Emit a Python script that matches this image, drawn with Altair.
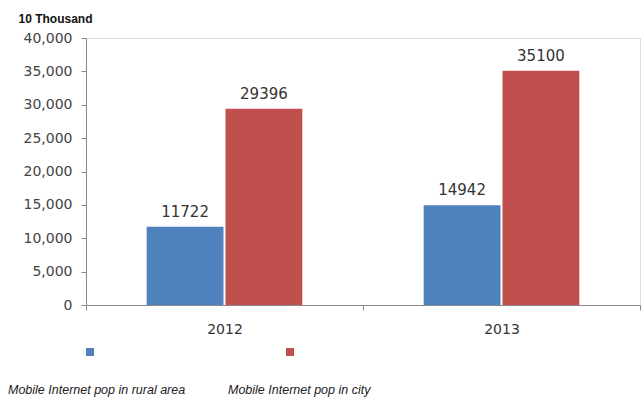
import altair as alt
import pandas as pd

years = ["2012", "2013"]
series = ["Mobile Internet pop in rural area", "Mobile Internet pop in city"]
rural = [11722, 14942]
city = [29396, 35100]
colors = ["#4F81BD", "#C0504D"]
y_ticks = [0, 5000, 10000, 15000, 20000, 25000, 30000, 35000, 40000]

rows = []
for i, yr in enumerate(years):
    rows.append({"year": yr, "series": series[0], "value": rural[i]})
    rows.append({"year": yr, "series": series[1], "value": city[i]})
df = pd.DataFrame(rows)

leg = pd.DataFrame({"series": series})

W, H = 554, 267

color = alt.Color("series:N", scale=alt.Scale(domain=series, range=colors), legend=None)

x = alt.X("year:N", scale=alt.Scale(domain=years, paddingInner=0, paddingOuter=0),
          axis=alt.Axis(title=None, labelAngle=0, labelFontSize=14, labelColor="#333",
                        labelFont="DejaVu Sans", labelPadding=12, tickBand="extent",
                        tickSize=5, tickColor="#888", domainColor="#888"))
xo = alt.XOffset("series:N", scale=alt.Scale(domain=series, paddingInner=0.025, paddingOuter=0.77))
y = alt.Y("value:Q", scale=alt.Scale(domain=[0, 40000], nice=False),
          axis=alt.Axis(title="10 Thousand", titleAngle=0, titleAlign="left", titleX=-68, titleY=-20,
                        titleFontSize=12, titleFont="Liberation Sans", titleFontWeight="bold",
                        titleColor="#111", titleBaseline="middle",
                        values=y_ticks, format=",d", grid=False, labelOverlap=False,
                        labelFontSize=14, labelColor="#444", labelFont="DejaVu Sans",
                        tickSize=5, tickColor="#888", domainColor="#888", labelPadding=9))

bars = alt.Chart(df).mark_bar().encode(x=x, xOffset=xo, y=y, color=color)
labels = alt.Chart(df).mark_text(baseline="bottom", dy=-7, fontSize=15, color="#333",
                                  font="DejaVu Sans").encode(
    x=x, xOffset=xo, y=y, text="value:Q")

txt_style = dict(align="left", baseline="middle", fontSize=12.5, fontStyle="italic",
                 color="#222", font="Liberation Sans")
legend_layers = alt.layer(
    alt.Chart(leg).transform_filter(alt.datum.series == series[0]).mark_square(size=64, opacity=1).encode(
        x=alt.value(4), y=alt.value(314), color=color),
    alt.Chart(leg).transform_filter(alt.datum.series == series[1]).mark_square(size=64, opacity=1).encode(
        x=alt.value(204), y=alt.value(314), color=color),
    alt.Chart(leg).transform_filter(alt.datum.series == series[0]).mark_text(**txt_style).encode(
        x=alt.value(-78), y=alt.value(352), text="series:N"),
    alt.Chart(leg).transform_filter(alt.datum.series == series[1]).mark_text(**txt_style).encode(
        x=alt.value(142), y=alt.value(352), text="series:N"),
)

chart = alt.layer(bars, labels, legend_layers).properties(
    width=W, height=H,
    autosize=alt.AutoSizeParams(type="none"),
    padding={"left": 86, "top": 38, "right": 1, "bottom": 104},
).configure_view(stroke=None).configure(background="white")

chart.save("out.html", embed_options={"renderer": "svg", "actions": False})
